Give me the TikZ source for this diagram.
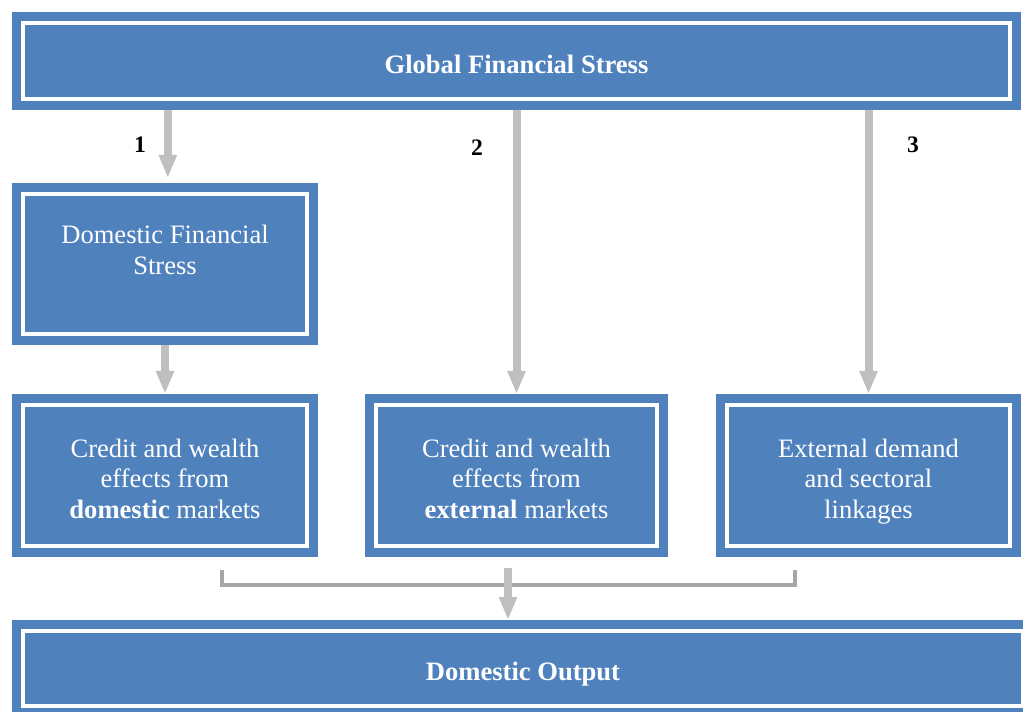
\documentclass[tikz,border=0pt]{standalone}
\usepackage{fontspec}
\setmainfont{Liberation Serif}
\usepackage{tikz}
\usetikzlibrary{arrows.meta,positioning,calc}
\usepackage{xcolor}

\definecolor{panelblue}{HTML}{4F81BD}
\definecolor{flowgray}{HTML}{BFBFBF}
\definecolor{joingray}{HTML}{A6A6A6}

\begin{document}
\begin{tikzpicture}[
    panel/.style={rectangle, fill=panelblue, draw=white, line width=0.1cm, inner sep=0pt, outer sep=0.275cm,
        preaction={draw=panelblue, line width=0.55cm}, text=white, align=center,
        font=\fontsize{18.9}{21.7}\selectfont},
    head/.style={panel, font=\fontsize{18.9}{21.7}\selectfont\bfseries, text height=0.61cm, text depth=0cm},
    channel/.style={panel, minimum height=3.525cm, text height=2.15cm, text depth=0cm},
    flow/.style={draw=flowgray, line width=0.2cm, -{Triangle[length=0.575cm, width=0.42cm]}},
    bracketline/.style={draw=joingray, line width=0.12cm},
    num/.style={font=\fontsize{16.8}{19}\selectfont\bfseries}
]
\useasboundingbox (0,0) rectangle (25.575,17.775);

% Top box
\node[head, minimum width=24.675cm, minimum height=1.9cm] (gfs) at (12.9125, 16.25) {Global Financial Stress};

% Channel 1: through domestic financial stress
\node[panel, minimum width=7.1cm, minimum height=3.5cm, text depth=0.7cm] (dfs) at (4.125, 11.175) {Domestic Financial\\Stress};

% Row of transmission channels
\node[channel, minimum width=7.1cm] (cwd) at (4.125, 5.8875) {Credit and wealth\\effects from\\\textbf{domestic} markets};
\node[channel, minimum width=7.025cm] (cwx) at (12.9125, 5.8875) {Credit and wealth\\effects from\\\textbf{external} markets};
\node[channel, minimum width=7.075cm] (edl) at (21.7125, 5.8875) {External demand\\and sectoral\\linkages};

% Bottom box (runs off the page)
\node[head, minimum width=25cm, minimum height=1.875cm] (out) at (13.075, 1.0625) {Domestic Output};

% Channel numbers
\node[num] (n1) at (3.5, 14.15) {1};
\node[num] (n2) at (11.925, 14.075) {2};
\node[num] (n3) at (22.825, 14.15) {3};

% Arrows down from global stress
\draw[flow, shorten >=0.125cm] ([xshift=0.07cm]dfs.north |- gfs.south) -- ([xshift=0.07cm]dfs.north);
\draw[flow] (dfs.south) -- (cwd.north);
\draw[flow] (gfs.south -| cwx.north) -- (cwx.north);
\draw[flow] (gfs.south -| edl.north) -- (edl.north);

% Bracket joining the three channels
\coordinate (jl) at (5.55, 3.525);
\coordinate (jr) at (19.875, 3.525);
\coordinate (jm) at (12.7, 3.575);
\draw[bracketline] (jl) -- ++(0,-0.375) -| (jr);
\draw[flow] (jm) -- (jm |- out.north);

\end{tikzpicture}
\end{document}
